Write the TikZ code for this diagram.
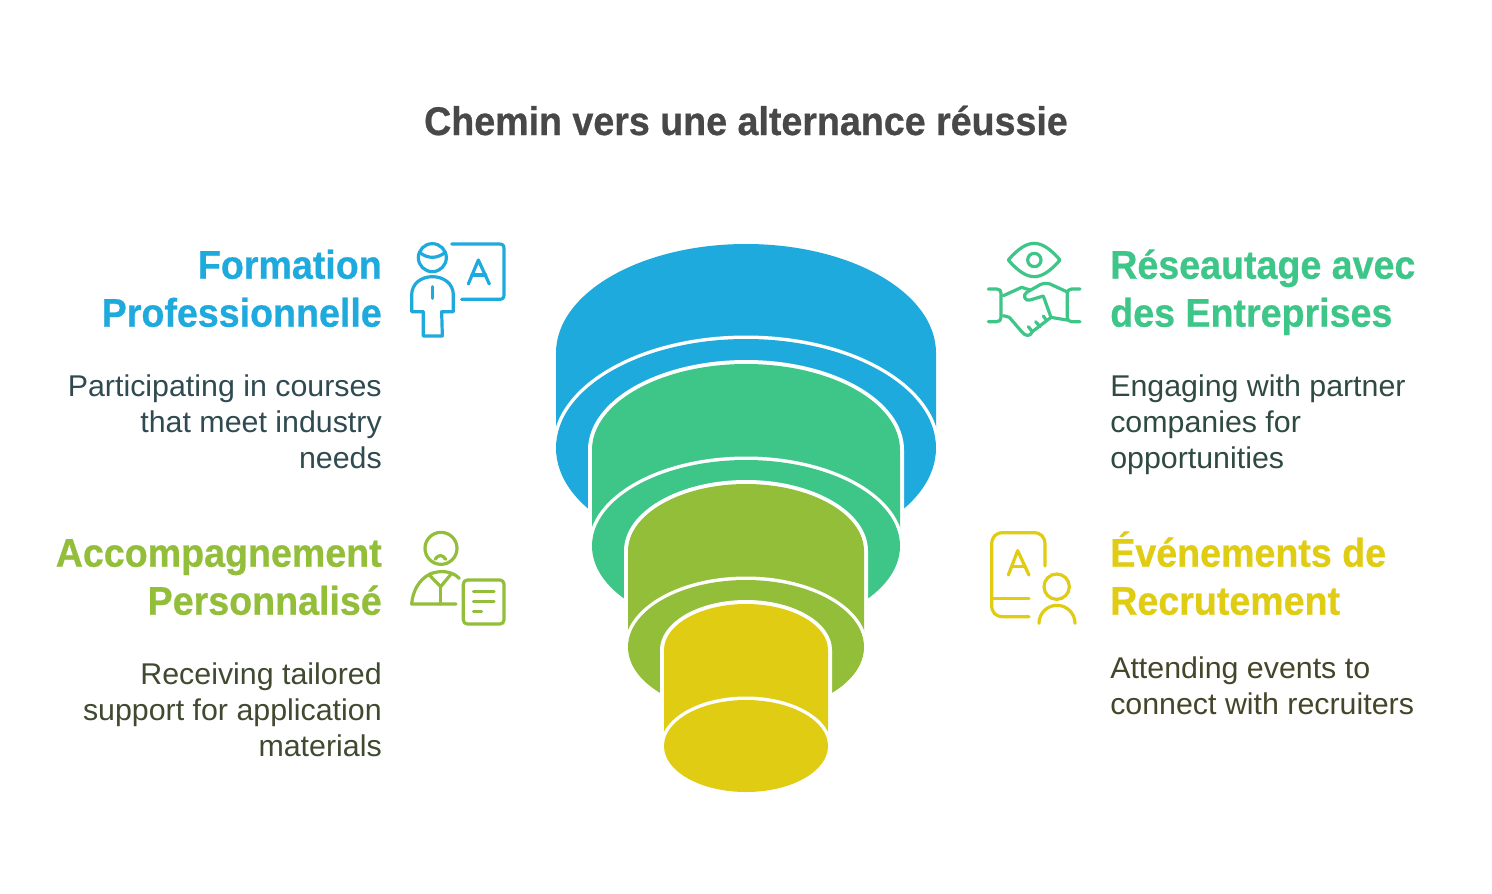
\documentclass[tikz,border=0pt]{standalone}
\usepackage{fontspec}
\setmainfont[BoldFeatures={FakeStretch=0.94,FakeBold=0.6},UprightFeatures={FakeStretch=1.012}]{Liberation Sans}
\definecolor{cblue}{HTML}{1EAADC}
\definecolor{cgreen}{HTML}{3EC688}
\definecolor{colive}{HTML}{93BE3A}
\definecolor{cyellow}{HTML}{E0CD13}
\definecolor{ctitle}{HTML}{484848}
\definecolor{tblue}{HTML}{2F4A50}
\definecolor{tgreen}{HTML}{2F4A42}
\definecolor{tolive}{HTML}{3F4A30}
\definecolor{tyellow}{HTML}{45452A}
\newcommand{\hs}{\vphantom{É}}
\tikzset{
 x=0.75pt,y=-0.75pt,
 titlelabel/.style={inner sep=0,font=\fontsize{30}{36}\selectfont\bfseries,text=ctitle,anchor=base},
 headl/.style={inner sep=0,font=\fontsize{30}{36}\selectfont\bfseries,align=right,anchor=north east},
 headr/.style={inner sep=0,font=\fontsize{30}{36}\selectfont\bfseries,align=left,anchor=north west},
 bodyl/.style={inner sep=0,font=\fontsize{22.5}{27}\selectfont,align=right,anchor=north east},
 bodyr/.style={inner sep=0,font=\fontsize{22.5}{27}\selectfont,align=left,anchor=north west},
 iconline/.style={line width=2.4pt,line cap=round,line join=round},
 iconframe/.style={x=0.25pt,y=-0.25pt,iconline},
}
% #1 colour, #2 rx, #3 upper centre y, #4 lower centre y, #5 ry
\newcommand{\cylinder}[5]{%
  \fill[white] (746-#2-4,#3) arc[start angle=180,end angle=360,x radius=#2+4,y radius=#5+4]
     -- (746+#2+4,#4) arc[start angle=0,end angle=180,x radius=#2+4,y radius=#5+4] -- cycle;
  \fill[#1] (746-#2,#3) arc[start angle=180,end angle=360,x radius=#2,y radius=#5]
     -- (746+#2,#4) arc[start angle=0,end angle=180,x radius=#2,y radius=#5] -- cycle;
  \fill[white] (746,#4) ellipse[x radius=#2+3.5,y radius=#5+3.5];
  \fill[#1] (746,#4) ellipse[x radius=#2,y radius=#5];
}
\begin{document}
\begin{tikzpicture}
\useasboundingbox (0,0) rectangle (1492,893);
\fill[white] (0,0) rectangle (1492,893);
\node[titlelabel] (title) at (746,135) {Chemin vers une alternance réussie};
% funnel
\cylinder{cblue}{190}{353}{448}{109}
\cylinder{cgreen}{154}{450}{546}{86}
\cylinder{colive}{118}{551}{647}{67}
\cylinder{cyellow}{82}{650}{746}{46}
% left texts
\node[headl,text=cblue] (h1) at (382,243) {\hs Formation\\Professionnelle};
\node[bodyl,text=tblue] (d1) at (382,374) {Participating in courses\\that meet industry\\needs};
\node[headl,text=colive] (h2) at (382,531) {\hs Accompagnement\\Personnalisé};
\node[bodyl,text=tolive] (d2) at (382,662) {Receiving tailored\\support for application\\materials};
% right texts
\node[headr,text=cgreen] (h3) at (1110,243) {\hs Réseautage avec\\des Entreprises};
\node[bodyr,text=tgreen] (d3) at (1110,374) {Engaging with partner\\companies for\\opportunities};
\node[headr,text=cyellow] (h4) at (1110,531) {\hs Événements de\\Recrutement};
\node[bodyr,text=tyellow] (d4) at (1110,656) {Attending events to\\connect with recruiters};
% icon 1
\begin{scope}[shift={(400,230)},iconframe,draw=cblue]
 \draw (97,83) circle[radius=42];
 \draw (60,68) .. controls (85,88) and (112,85) .. (135,68);
 \draw (70,245) -- (35,245) -- (35,195) .. controls (35,160) and (65,140) .. (97,140) .. controls (130,140) and (160,160) .. (160,195) -- (160,245) -- (125,245) -- (127,318) -- (70,318) -- cycle;
 \draw (97,170) -- (97,205);
 \draw (155,42) -- (298,42) .. controls (308,42) and (312,46) .. (312,56) -- (312,194) .. controls (312,204) and (308,208) .. (298,208) -- (185,208);
 \draw (205,162) -- (235,90) -- (268,162);
 \draw (216,135) -- (257,135);
\end{scope}
% icon 2
\begin{scope}[shift={(400,520)},iconframe,draw=colive]
 \draw (123,85) circle[radius=48];
 \draw (105,118) .. controls (115,103) and (128,103) .. (137,118);
 \draw (168,252) -- (35,252) .. controls (38,215) and (55,180) .. (90,162) .. controls (120,150) and (155,152) .. (178,175);
 \draw (88,165) -- (122,200) -- (155,160);
 \draw (122,200) -- (122,252);
 \draw[rounded corners=3pt] (190,180) rectangle (312,312);
 \draw (220,215) -- (282,215);
 \draw (220,245) -- (282,245);
 \draw (220,275) -- (245,275);
\end{scope}
% icon 3
\begin{scope}[shift={(975,230)},iconframe,draw=cgreen]
 \draw (100,90) .. controls (130,55) and (155,40) .. (178,40) .. controls (200,40) and (225,55) .. (255,90) .. controls (225,125) and (200,140) .. (178,140) .. controls (155,140) and (130,125) .. (100,90) -- cycle;
 \draw (178,90) circle[radius=20];
 \draw (40,177) -- (65,177) .. controls (74,177) and (78,182) .. (78,190) -- (78,262) .. controls (78,270) and (74,275) .. (65,275) -- (40,275);
 \draw (315,177) -- (290,177) .. controls (281,177) and (277,182) .. (277,190) -- (277,262) .. controls (277,270) and (281,275) .. (290,275) -- (315,275);
 \draw (85,197) -- (140,172) -- (165,180);
 \draw (275,185) -- (225,162) .. controls (210,158) and (200,160) .. (185,170) -- (155,187) .. controls (142,195) and (150,215) .. (165,210) -- (205,198) -- (228,262) -- (275,270);
 \draw (85,257) -- (103,262) -- (140,305) .. controls (150,318) and (165,322) .. (172,305) -- (228,262);
 \draw (172,305) -- (160,290);
 \draw (195,290) -- (182,275);
 \draw (215,272) -- (205,258);
\end{scope}
% icon 4
\begin{scope}[shift={(975,520)},iconframe,draw=cyellow]
 \draw (210,138) -- (210,75) .. controls (210,50) and (198,38) .. (175,38) -- (85,38) .. controls (62,38) and (50,50) .. (50,75) -- (50,255) .. controls (50,278) and (62,290) .. (85,290) -- (162,290);
 \draw (50,235) -- (162,235);
 \draw (100,165) -- (128,92) -- (162,165);
 \draw (110,140) -- (152,140);
 \draw (245,200) circle[radius=38];
 \draw (192,310) arc[start angle=180,end angle=360,radius=54];
\end{scope}
\end{tikzpicture}
\end{document}
